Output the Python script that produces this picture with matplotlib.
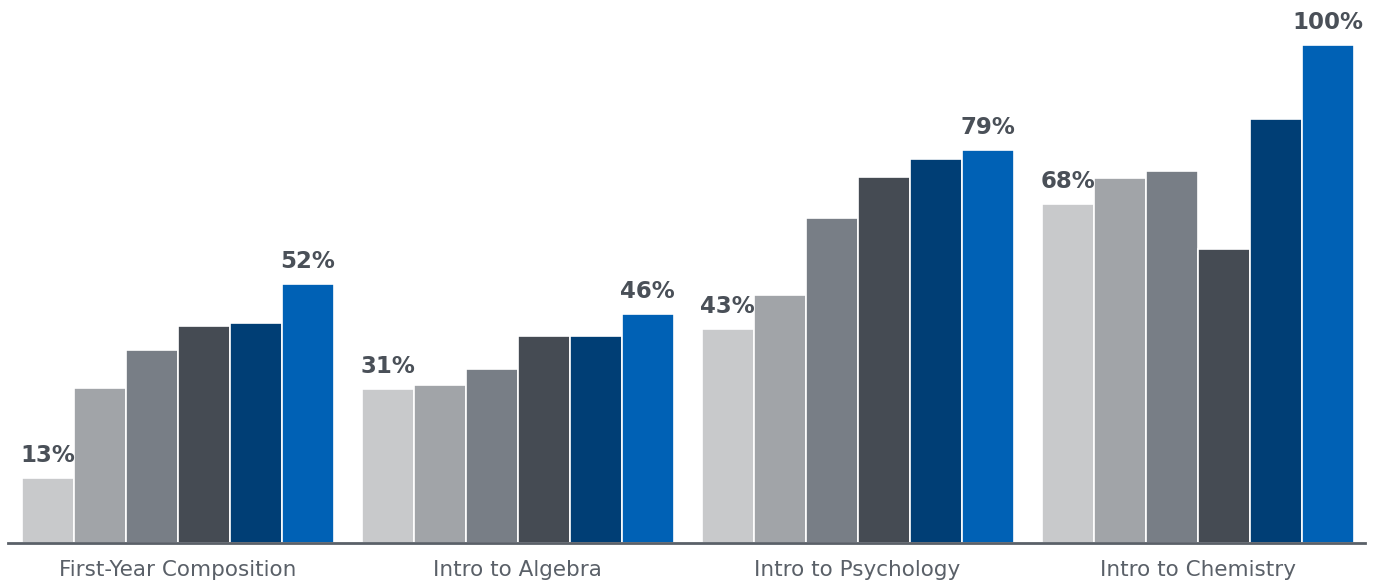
import numpy as np
import matplotlib.pyplot as plt

categories = ['First-Year Composition', 'Intro to Algebra',
              'Intro to Psychology', 'Intro to Chemistry']
series_values = [
    [13, 31.1, 38.8, 43.6, 44.2, 52],
    [31, 31.7, 34.9, 41.6, 41.6, 46],
    [43, 49.8, 65.3, 73.5, 77.1, 79],
    [68, 73.3, 74.7, 59, 85.1, 100],
]
colors = ['#C8C9CB', '#A1A4A8', '#787E86', '#454B53', '#003E75', '#0061B5']

fig = plt.figure(figsize=(13.73, 5.83), dpi=100)
ax = fig.add_axes([8 / 1373, 40 / 583, 1357 / 1373, 543 / 583])

group_pitch = 340 / 52
n = len(colors)
for i, vals in enumerate(series_values):
    center = i * group_pitch
    for j, v in enumerate(vals):
        x = center + (j - (n - 1) / 2)
        ax.bar(x, v, width=1.0, color=colors[j], edgecolor='white', linewidth=1.2)
        if j == 0 or j == n - 1:
            ax.text(x, v + 2.2, f'{v:.0f}%', ha='center', va='bottom',
                    fontsize=16.5, fontweight='bold', color='#4A5058')

ax.set_xlim((8 - 177.5) / 52, (1365 - 177.5) / 52)
ax.set_ylim(0, 543 / 4.98)
ax.set_xticks([i * group_pitch for i in range(len(categories))])
ax.set_xticklabels(categories, fontsize=15.5, color='#5A6068')
ax.tick_params(axis='x', length=0, pad=12)
ax.set_yticks([])
for s in ['top', 'right', 'left']:
    ax.spines[s].set_visible(False)
ax.spines['bottom'].set_color('#5A6068')
ax.spines['bottom'].set_linewidth(2)

plt.savefig('out.png', dpi=100)
plt.close()
